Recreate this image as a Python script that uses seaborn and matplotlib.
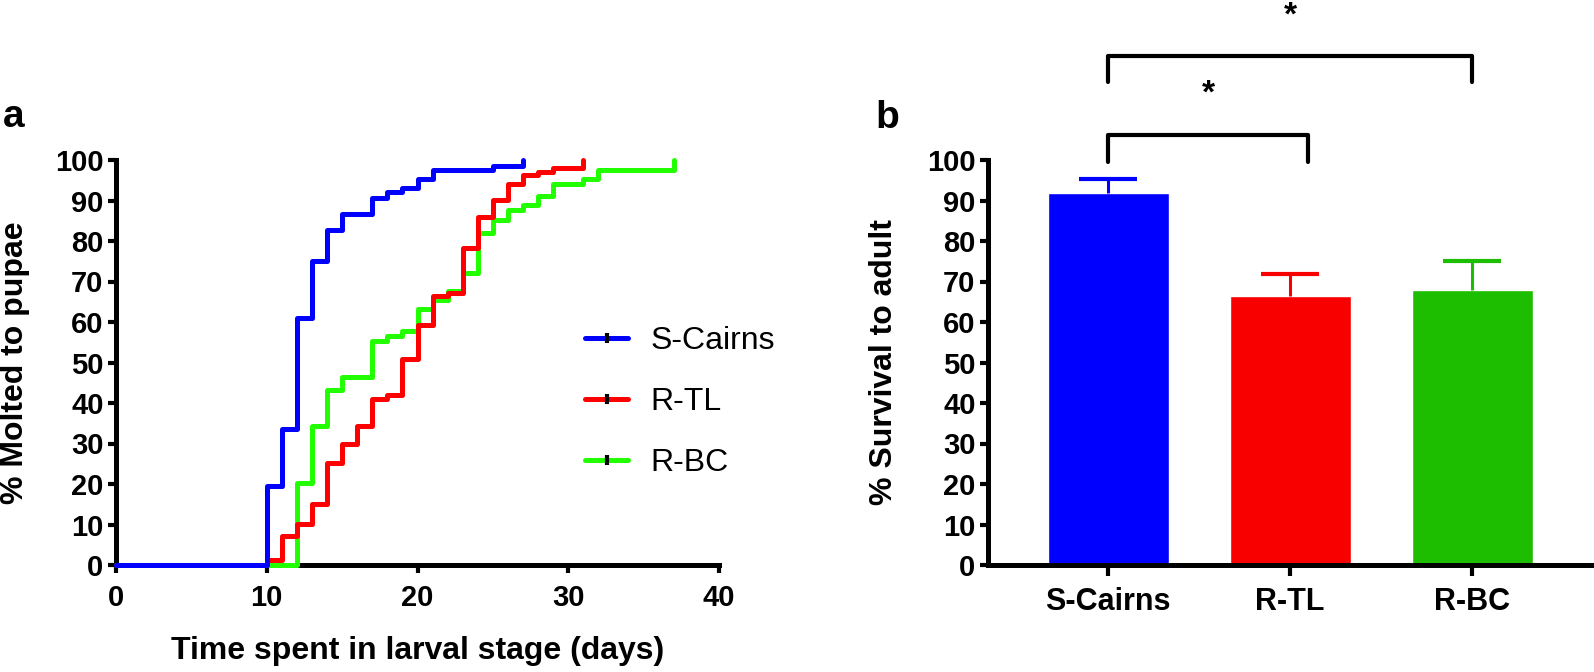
import numpy as np
import pandas as pd
import matplotlib
matplotlib.use("Agg")
import matplotlib.pyplot as plt
import seaborn as sns
from matplotlib.lines import Line2D
from matplotlib import font_manager

# ---------------- data ----------------
strains = ["S-Cairns", "R-TL", "R-BC"]
line_colors = ["#0000FF", "#FF0000", "#22FF00"]
bar_colors = ["#0000FF", "#F80000", "#1DBE00"]

scairns_days = [0, 10, 11, 12, 13, 14, 15, 17, 18, 19, 20, 21, 25, 27]
scairns_pct = [0, 19.5, 33.5, 61.0, 75.0, 82.7, 86.7, 90.5, 92.0, 93.0, 95.2, 97.5, 98.5, 100]

rtl_days = [0, 10, 11, 12, 13, 14, 15, 16, 17, 18, 19, 20, 21, 22, 23, 24, 25, 26, 27, 28, 29, 31]
rtl_pct = [0, 1.2, 7.2, 10.1, 15.0, 25.1, 29.9, 34.2, 40.9, 42.0, 50.9, 59.3, 66.3, 67.2,
           78.2, 86.0, 90.1, 94.0, 96.2, 97.0, 98.1, 100]

rbc_days = [0, 12, 13, 14, 15, 17, 18, 19, 20, 21, 22, 23, 24, 25, 26, 27, 28, 29, 31, 32, 37]
rbc_pct = [0, 20.2, 34.3, 43.2, 46.5, 55.3, 56.6, 57.8, 63.2, 65.4, 67.7, 72.0, 82.0, 85.3,
           87.7, 88.9, 91.0, 94.0, 95.3, 97.6, 100]

survival_mean = [91.8, 66.5, 67.8]
survival_err = [3.4, 5.4, 7.3]

xticks_a = [0, 10, 20, 30, 40]
yticks = [0, 10, 20, 30, 40, 50, 60, 70, 80, 90, 100]

# ---------------- style ----------------
sns.set_style("ticks")
plt.rcParams["font.family"] = ["Liberation Sans", "DejaVu Sans"]
plt.rcParams["text.color"] = "black"
plt.rcParams["axes.labelcolor"] = "black"
plt.rcParams["xtick.color"] = "black"
plt.rcParams["ytick.color"] = "black"
avail = {f.name for f in font_manager.fontManager.ttflist}
narrow = ["Liberation Sans Narrow", "Liberation Sans", "DejaVu Sans"] if "Liberation Sans Narrow" in avail else ["Liberation Sans", "DejaVu Sans"]

W, H = 1594, 672
fig = plt.figure(figsize=(W / 100, H / 100), dpi=100)
axa = fig.add_axes([116 / W, 107 / H, 603 / W, 405 / H])
axb = fig.add_axes([988 / W, 107 / H, 606 / W, 405 / H])

# ---------------- panel a ----------------
df = pd.concat([
    pd.DataFrame({"day": scairns_days, "pct": scairns_pct, "strain": "S-Cairns"}),
    pd.DataFrame({"day": rtl_days, "pct": rtl_pct, "strain": "R-TL"}),
    pd.DataFrame({"day": rbc_days, "pct": rbc_pct, "strain": "R-BC"}),
], ignore_index=True)

sns.lineplot(data=df, x="day", y="pct", hue="strain", hue_order=["R-BC", "R-TL", "S-Cairns"],
             palette=dict(zip(strains, line_colors)), drawstyle="steps-post",
             estimator=None, lw=3.6, legend=False, ax=axa)
for ln in axa.lines:
    ln.set_clip_on(False)
    ln.set_zorder(3)
    ln.set_solid_capstyle("round")

axa.set_xlim(0, 40)
axa.set_ylim(0, 100)
axa.set_xticks(xticks_a)
axa.set_yticks(yticks)
axa.set_xlabel("Time spent in larval stage (days)", fontsize=23, fontweight="bold")
axa.set_ylabel("% Molted to pupae", fontsize=23, fontweight="bold")
axa.xaxis.set_label_coords(0.5, -0.212)
axa.xaxis.label.set_va("center")
axa.yaxis.set_label_coords(-0.1675, 0.5)
axa.yaxis.label.set_va("center")

handles = [Line2D([0], [0], color=c, lw=3.6, marker="|", mec="k", mfc="k", ms=7, mew=3)
           for c in line_colors]
axa.legend(handles, strains, loc="center left", bbox_to_anchor=(585 / W, 1 - 402 / H),
           bbox_transform=fig.transFigure, frameon=False, fontsize=23,
           handlelength=1.35, handletextpad=0.7, labelspacing=0.97,
           borderpad=0, borderaxespad=0, numpoints=1)

# ---------------- panel b ----------------
sns.barplot(x=strains, y=survival_mean, hue=strains, palette=bar_colors, saturation=1,
            width=0.665, legend=False, ax=axb, errorbar=None)
for i, (m, e, c) in enumerate(zip(survival_mean, survival_err, bar_colors)):
    cont = axb.errorbar(i, m, yerr=[[0], [e]], color=c, elinewidth=2.2, capsize=21,
                        capthick=3, zorder=3)
    for cap in cont[1]:
        if np.allclose(cap.get_ydata(), m):
            cap.set_visible(False)

axb.set_xlim(-0.66, 2.67)
axb.set_ylim(0, 100)
axb.set_yticks(yticks)
axb.set_ylabel("% Survival to adult", fontsize=23, fontweight="bold")
axb.yaxis.set_label_coords(-0.1716, 0.5)
axb.yaxis.label.set_va("center")
axb.set_xlabel("")

# significance brackets
axb.plot([0, 0, 1.1, 1.1], [99.5, 106.2, 106.2, 99.5], color="k", lw=3, clip_on=False,
         solid_capstyle="round")
axb.plot([0, 0, 2, 2], [119.3, 125.7, 125.7, 119.3], color="k", lw=3, clip_on=False,
         solid_capstyle="round")
axb.text(0.55, 116.3, "*", ha="center", va="center", fontsize=24, fontweight="bold")
axb.text(1.0, 135.6, "*", ha="center", va="center", fontsize=24, fontweight="bold")

# ---------------- common axis styling ----------------
for ax in (axa, axb):
    ax.spines[["top", "right"]].set_visible(False)
    for s in ("left", "bottom"):
        ax.spines[s].set_linewidth(3.6)
        ax.spines[s].set_color("black")
    ax.tick_params(axis="both", width=3, length=6, direction="out", pad=3, colors="black")
    for lbl in ax.get_yticklabels():
        lbl.set_fontweight("bold")
        lbl.set_family(narrow)
        lbl.set_fontsize(21)
axa.tick_params(axis="x", pad=8)
for lbl in axa.get_xticklabels():
    lbl.set_fontweight("bold")
    lbl.set_family(narrow)
    lbl.set_fontsize(21)
axb.tick_params(axis="x", pad=8, length=8)
for lbl in axb.get_xticklabels():
    lbl.set_fontweight("bold")
    lbl.set_fontsize(22)

fig.text(3 / W, 1 - 127 / H, "a", fontsize=28, fontweight="bold", ha="left", va="baseline")
fig.text(875 / W, 1 - 128 / H, "b", fontsize=28, fontweight="bold", ha="left", va="baseline")

fig.savefig("out.png", dpi=100)
